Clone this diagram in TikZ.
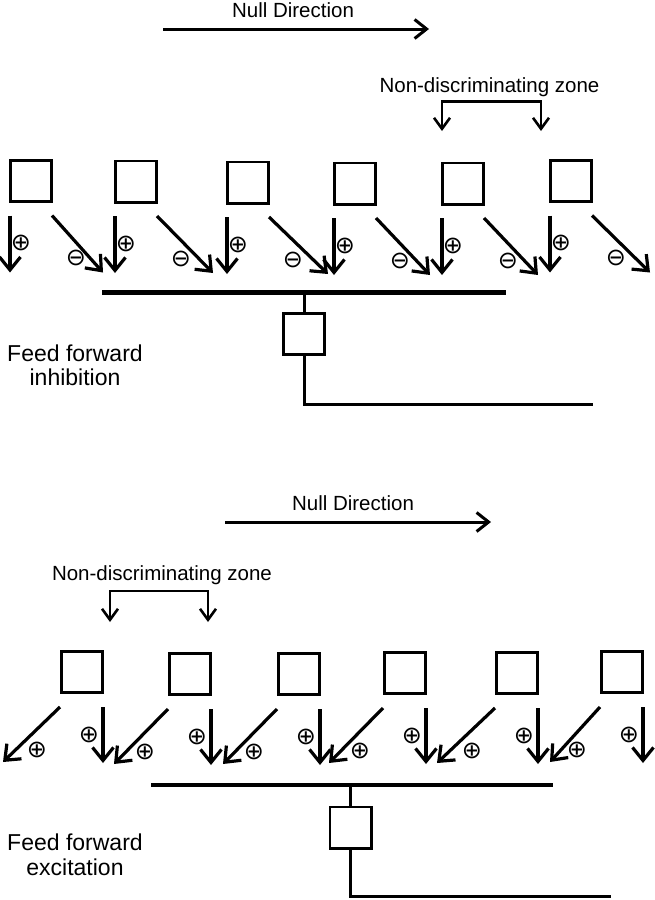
\documentclass[tikz,border=0pt]{standalone}
\usepackage{fontspec}
\setmainfont{Liberation Sans}
\newfontfamily\symfnt{DejaVu Sans}
\usetikzlibrary{arrows.meta,calc}
\begin{document}
\begin{tikzpicture}[x=1pt,y=-1pt,
  cell/.style={draw, line width=2.8pt, minimum size=41.2pt, inner sep=0pt},
  sig/.style={line width=3.2pt, -{Straight Barb[length=13pt,width=21pt]}},
  ndarr/.style={line width=3pt, -{Straight Barb[length=12pt,width=19pt]}},
  brk/.style={line width=2.6pt, {Straight Barb[length=11pt,width=16pt]}-{Straight Barb[length=11pt,width=16pt]}},
  pm/.style={font=\symfnt\fontsize{24}{24}\selectfont, inner sep=0pt},
  lbl/.style={font=\fontsize{20.5}{24}\selectfont, inner sep=0pt, anchor=base},
  ff/.style={font=\fontsize{23}{24}\selectfont, inner sep=0pt, anchor=base},
  bus/.style={line width=4.8pt},
  wire/.style={line width=3pt},
  sbox/.style={draw, line width=2.6pt, minimum size=41.4pt, inner sep=0pt}
]
\useasboundingbox (0,0) rectangle (655,900);

% ================= TOP: feed forward inhibition =================
\node[lbl] (nd1) at (293,17.3) {Null Direction};
\coordinate (nd1s) at (163,29);
\coordinate (nd1e) at (429,29);
\draw[ndarr] (nd1s) -- (nd1e);

\node[lbl] (nz1) at (489.5,92) {Non-discriminating zone};
\coordinate (nz1a) at (442,131);
\coordinate (nz1b) at (541,131);
\draw[brk] (nz1a) -- ++(0,-29.3) -| (nz1b);

\node[cell] (t1) at (31,181) {};
\node[cell] (t2) at (136,181.5) {};
\node[cell] (t3) at (248,182.5) {};
\node[cell] (t4) at (355,183.5) {};
\node[cell] (t5) at (463,183.5) {};
\node[cell] (t6) at (571,181) {};

\foreach \n/\dx in {1/51,2/56,3/59,4/54,5/54,6/58}{
  \draw[sig] ($(t\n.south west)+(1,12.5)$) -- ++(0,57);
  \draw[sig] ($(t\n.south east)+(-1,12.5)$) -- ++(\dx,57);
  \node[pm] (pt\n) at ($(t\n.south west)+(12,40)$) {⊕};
  \node[pm] (mt\n) at ($(t\n.south east)+(23,55)$) {⊖};
}

\coordinate (bus1a) at (102,292.7);
\coordinate (bus1b) at (506,292.7);
\draw[bus] (bus1a) -- (bus1b);
\node[sbox] (s1) at (304,334) {};
\coordinate (out1) at (593,404);
\draw[wire] (s1.north) -- (s1.north |- bus1a);
\draw[wire] (s1.south) |- (out1);

\node[ff] (ff1a) at (75,361.7) {Feed forward};
\node[ff] (ff1b) at (75,385) {inhibition};

% ================= BOTTOM: feed forward excitation =================
\node[lbl] (nd2) at (353,510.3) {Null Direction};
\coordinate (nd2s) at (225,522);
\coordinate (nd2e) at (491,522);
\draw[ndarr] (nd2s) -- (nd2e);

\node[lbl] (nz2) at (162,580) {Non-discriminating zone};
\coordinate (nz2a) at (110,622);
\coordinate (nz2b) at (208,622);
\draw[brk] (nz2a) -- ++(0,-31) -| (nz2b);

\node[cell] (b1) at (82,672) {};
\node[cell] (b2) at (190,674) {};
\node[cell] (b3) at (299,674) {};
\node[cell] (b4) at (405,673) {};
\node[cell] (b5) at (517,673) {};
\node[cell] (b6) at (622,672) {};

\foreach \n/\dx in {1/57,2/54,3/54,4/54,5/58,6/50}{
  \draw[sig] ($(b\n.south east)+(-1,13)$) -- ++(0,56);
  \node[pm] (pv\n) at ($(b\n.south east)+(-15,41)$) {⊕};
  \draw[sig] ($(b\n.south west)+(0,13)$) -- ++(-\dx,55);
  \node[pm] (pd\n) at ($(b\n.south west)+(-23,56)$) {⊕};
}

\coordinate (bus2a) at (151,785);
\coordinate (bus2b) at (553,785);
\draw[bus] (bus2a) -- (bus2b);
\node[sbox] (s2) at (350.5,827.5) {};
\coordinate (out2) at (611,896);
\draw[wire] (s2.north) -- (s2.north |- bus2a);
\draw[wire] (s2.south) |- (out2);

\node[ff] (ff2a) at (75,850) {Feed forward};
\node[ff] (ff2b) at (75,875) {excitation};
\end{tikzpicture}
\end{document}
